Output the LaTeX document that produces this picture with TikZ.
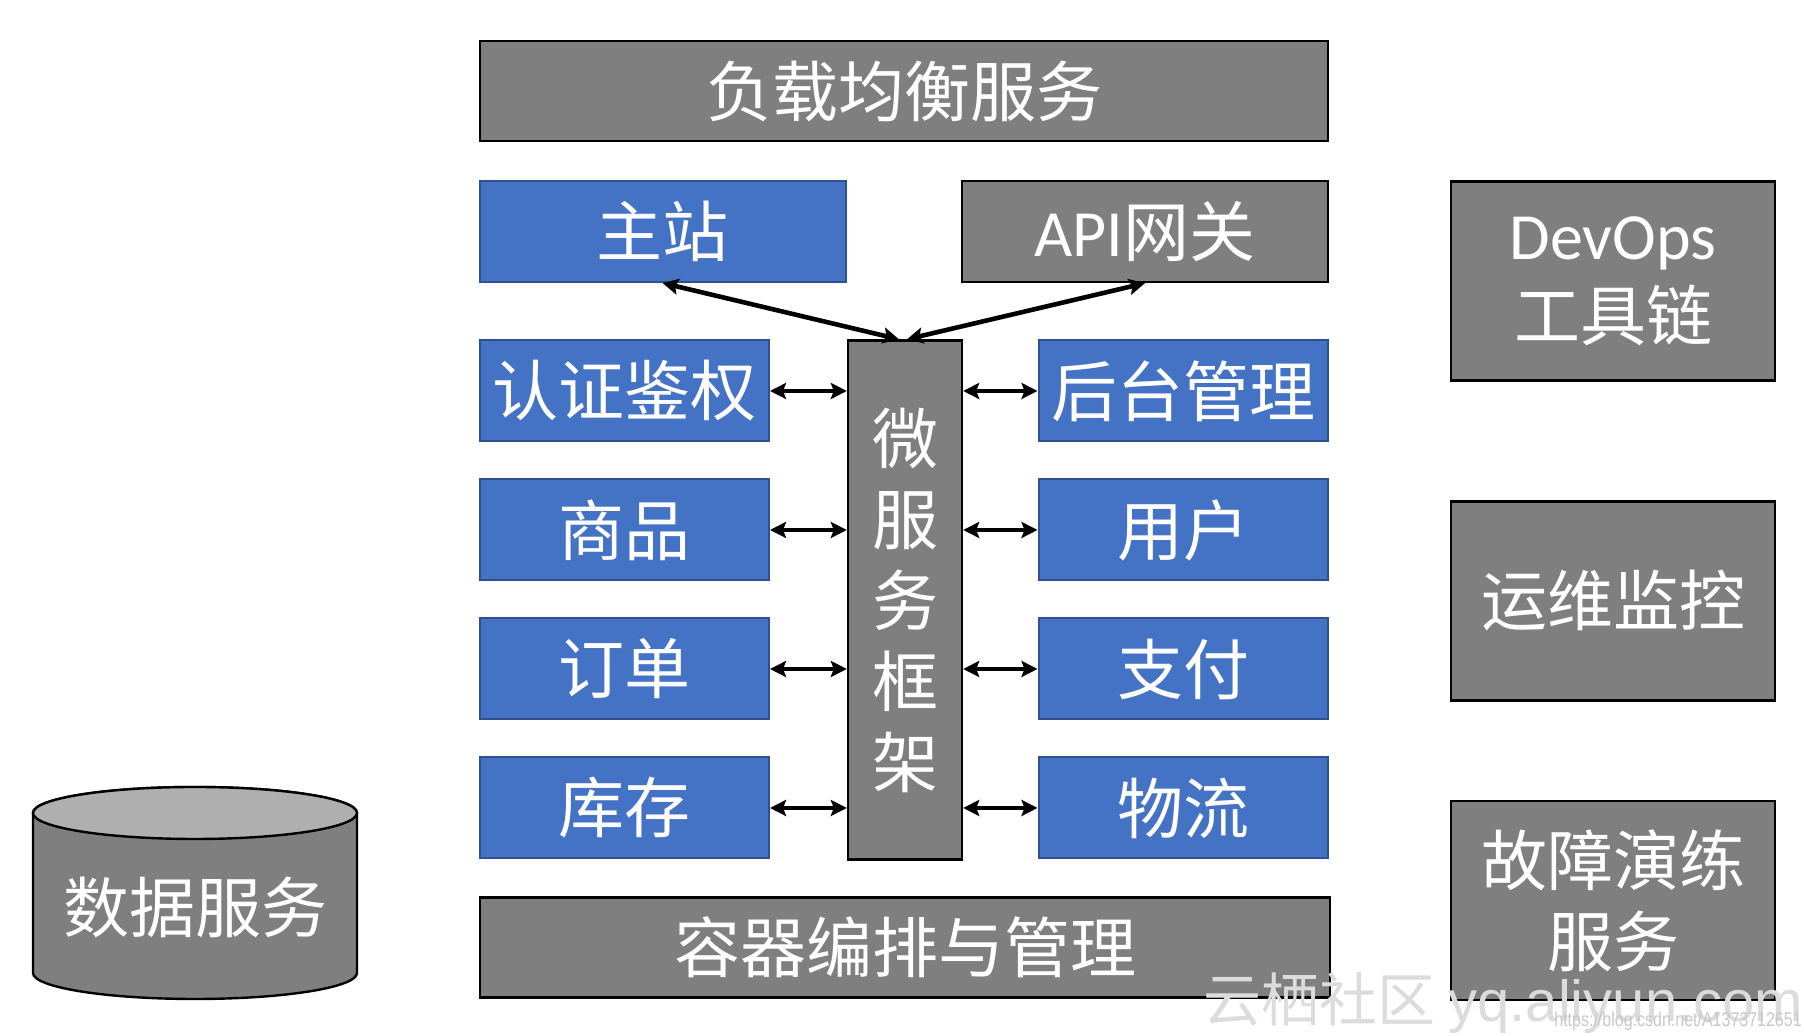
\documentclass[tikz,border=0pt]{standalone}
\usepackage{fontspec}
\setmainfont{Noto Sans CJK SC}
\newfontfamily\lat{Carlito}
\newfontfamily\wmark{Liberation Sans}
\usepackage{tikz}
\usetikzlibrary{positioning}
\usetikzlibrary{arrows.meta}
\definecolor{boxblue}{HTML}{4472C4}
\definecolor{blueline}{HTML}{2F528F}
\definecolor{boxgray}{HTML}{7F7F7F}
\definecolor{cyltop}{HTML}{AFAFAF}
\definecolor{wmgray}{HTML}{C8C8C8}
\definecolor{wmlight}{HTML}{DCDCDC}

\begin{document}
\begin{tikzpicture}[x=0.5pt,y=0.5pt,node distance=18pt,
    every node/.style={text=white,inner sep=0pt,font=\fontsize{33}{40.5}\selectfont},
    blu/.style={draw=blueline,fill=boxblue,line width=1pt,minimum height=50.5pt},
    gry/.style={draw=black,fill=boxgray,line width=1.2pt},
    svc/.style={blu,minimum width=144.5pt},
    side/.style={gry,minimum width=162pt,minimum height=99.5pt,align=center},
    link/.style={line width=2.3pt,{Stealth[length=8pt,width=8pt,inset=1.5pt]}-{Stealth[length=8pt,width=8pt,inset=1.5pt]}}]
    \useasboundingbox (0,0) rectangle (1804,1036);
    % top and bottom layers
    \node[gry,minimum width=424pt,minimum height=50pt] (lb) at (904,945) {负载均衡服务};
    \node[gry,minimum width=425pt,minimum height=50pt] (ctr) at (905,88.5) {容器编排与管理};
    % entry points
    \node[blu,minimum width=183pt] (main) at (662.5,804.5) {主站};
    \node[gry,minimum width=183pt,minimum height=50.5pt] (api) at (1145,804.5) {{\lat API}网关};
    % framework
    \node[gry,minimum width=57pt,minimum height=259.5pt,align=center] (fw) at (905,436) {微\\服\\务\\框\\架};
    % left services
    \node[svc] (auth) at (624.5,645) {认证鉴权};
    \node[svc] (goods) [below=of auth] {商品};
    \node[svc] (order) [below=of goods] {订单};
    \node[svc] (stock) [below=of order] {库存};
    % right services
    \node[svc] (admin) at (1183,645) {后台管理};
    \node[svc] (user) [below=of admin] {用户};
    \node[svc] (pay) [below=of user] {支付};
    \node[svc] (ship) [below=of pay] {物流};
    % side column
    \node[side] (devops) at (1613,755) {{\lat DevOps}\\工具链};
    \node[side] (ops) at (1613,435) {运维监控};
    \node[side] (drill) at (1613,135.5) {故障演练\\服务};
    % data service cylinder
    \draw[fill=boxgray,line width=1.2pt] (33,223) -- (33,63)
        arc[start angle=180,end angle=360,x radius=81pt,y radius=13pt] -- (357,223)
        arc[start angle=0,end angle=180,x radius=81pt,y radius=13pt] -- cycle;
    \draw[fill=cyltop,line width=1.2pt] (195,223) ellipse[x radius=81pt,y radius=13pt];
    \node (data) at (195,129) {数据服务};
    % connectors
    \draw[link] (main.south) -- ([xshift=-3pt]fw.north);
    \draw[link] (api.south) -- ([xshift=1pt]fw.north);
    \foreach \s in {auth,goods,order,stock}
        \draw[link] (\s.east) -- (\s.east -| fw.west);
    \foreach \s in {admin,user,pay,ship}
        \draw[link] (\s.west) -- (\s.west -| fw.east);
    % watermark
    \node[text=wmlight,anchor=base west,font=\fontsize{29}{29}\selectfont] (wm) at (1203,14) {云栖社区 {\wmark yq.aliyun.com}};
    \node[text=wmgray,anchor=base east,xscale=0.8,font=\wmark\fontsize{10}{10}\selectfont] (url) at (1802,9) {https://blog.csdn.net/A1373712651};
\end{tikzpicture}
\end{document}
